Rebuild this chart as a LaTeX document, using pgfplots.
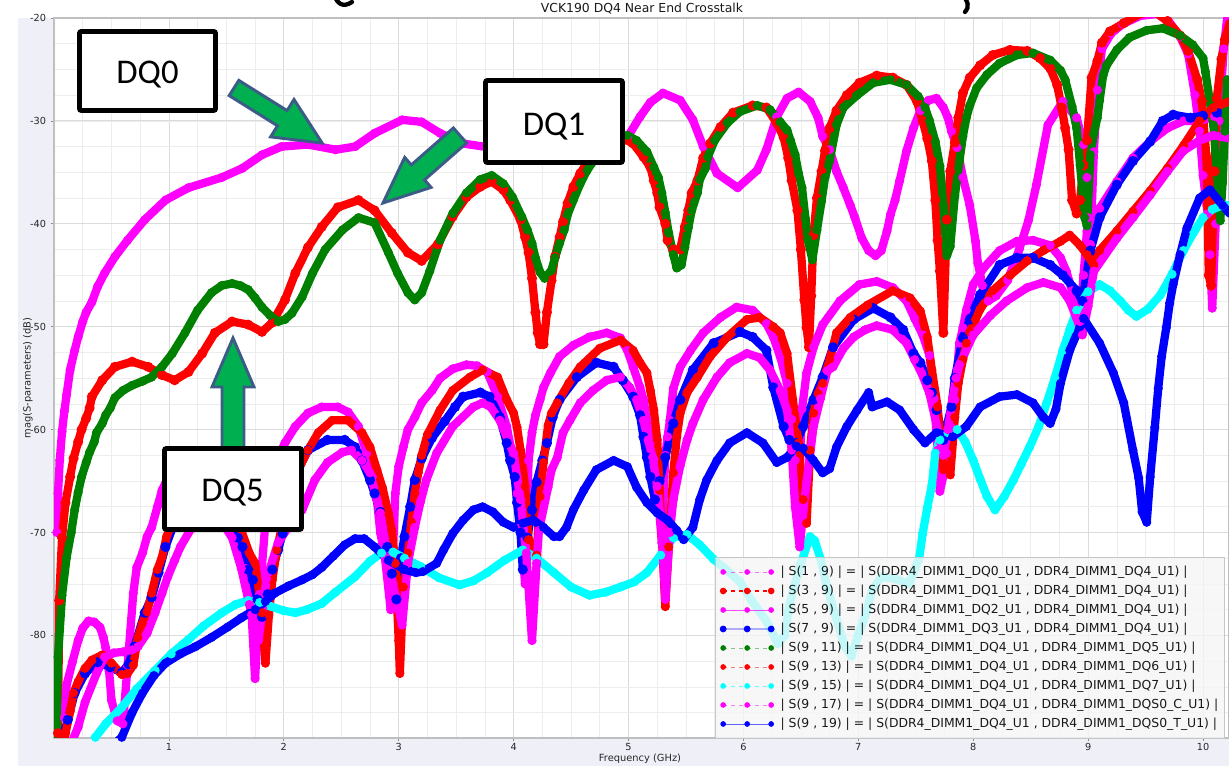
\documentclass[border=0pt]{standalone}
\usepackage{pgfplots}
\pgfplotsset{compat=1.18}
\usepackage{pgfplotstable}
\usepackage{fontspec}
\setmainfont{DejaVu Sans}
\newfontfamily\calib{Carlito}
\newcommand\tickfont{\fontsize{7.3}{9}\selectfont}
\newcommand\labfont{\fontsize{7.4}{9}\selectfont}
\newcommand\titlefont{\fontsize{9.3}{11}\selectfont}
\newcommand\legfont{\fontsize{9.3}{11}\selectfont}
\newcommand\boxfont{\calib\fontsize{26}{30}\selectfont}
\newcommand\lgap{\hspace*{4.5pt}}
\definecolor{cM}{RGB}{255,0,255}
\definecolor{cR}{RGB}{255,0,0}
\definecolor{cB}{RGB}{0,0,255}
\definecolor{cG}{RGB}{0,128,0}
\definecolor{cC}{RGB}{0,255,255}
\definecolor{lav}{RGB}{239,239,248}
\definecolor{arrfill}{RGB}{0,176,80}
\definecolor{arrdraw}{RGB}{60,92,135}
\pgfplotsset{
  band/.style={forget plot, no marks, solid, line width=6.2pt, line join=round, line cap=round},
  dots/.style={mark=*, mark size=3.1pt, mark options={solid, draw opacity=1, fill opacity=1, fill=#1, draw=#1}},
}
\begin{document}
% S(1,9) DQ0
\pgfplotstableread{
x y
0.025 -70
0.035 -66.2
0.05 -63
0.07 -60.2
0.09 -58.2
0.11 -56.6
0.14 -54.2
0.18 -52.3
0.21 -51
0.25 -49.5
0.28 -48.6
0.33 -47.6
0.38 -46.1
0.44 -44.8
0.53 -43.2
0.64 -41.6
0.79 -39.6
0.97 -37.7
1.17 -36.5
1.46 -35.5
1.64 -34.6
1.81 -33.3
1.98 -32.5
2.21 -32.3
2.45 -32.8
2.62 -32.5
2.79 -31.2
3.03 -29.9
3.2 -30.1
3.36 -31.2
3.56 -32.2
3.8 -32.6
4.1 -33.3
4.4 -33.6
4.7 -33.2
4.99 -31.6
5.1 -29.6
5.19 -28.2
5.3 -27.3
5.45 -28
5.56 -29.9
5.65 -32.5
5.77 -35.1
5.95 -36.5
6.12 -34.8
6.2 -32.8
6.29 -29.6
6.38 -27.8
6.48 -27.2
6.58 -28.1
6.65 -29.7
6.69 -31.5
6.75 -32.8
6.81 -34.9
6.87 -36.5
6.93 -38.2
6.97 -39.4
7.03 -41.4
7.09 -42.6
7.15 -43.1
7.2 -42.6
7.25 -40.7
7.28 -39.1
7.32 -37.7
7.36 -35.8
7.42 -32.9
7.48 -30.7
7.54 -29.0
7.61 -28.0
7.68 -27.8
7.74 -28.7
7.78 -29.7
7.81 -31
7.86 -32.6
7.91 -35.5
7.97 -38.2
8.02 -41.7
8.04 -43.8
8.08 -46
8.13 -47.5
8.2 -47
8.3 -45.5
8.4 -42.5
8.48 -39.7
8.55 -36.2
8.65 -30.4
8.78 -28.1
8.9 -29.7
8.96 -32.3
8.99 -35.5
9.0 -39.4
9.02 -42
9.05 -33
9.08 -27
9.12 -23
9.2 -21.5
9.3 -20.6
9.45 -19.8
9.6 -19.6
9.7 -20.3
9.8 -21.8
9.87 -23.5
9.93 -27.5
9.97 -31
10.0 -35.3
10.04 -39
10.06 -43
10.08 -48.2
10.11 -40
10.14 -30
10.18 -23
10.22 -19
}\tA
% S(3,9) DQ1
\pgfplotstableread{
x y
0.03 -90.5
0.035 -89.5
0.045 -76.6
0.07 -70.5
0.1 -67.1
0.14 -64.6
0.17 -62.8
0.21 -61.2
0.24 -60
0.28 -58.9
0.31 -57.9
0.33 -56.8
0.42 -55.2
0.53 -53.9
0.68 -53.4
0.82 -53.9
0.94 -54.7
1.05 -55.2
1.17 -54.4
1.29 -52.6
1.4 -50.6
1.55 -49.5
1.69 -49.8
1.81 -50.5
1.9 -49.6
2.01 -47.4
2.1 -44.8
2.21 -42.3
2.33 -40.3
2.47 -38.4
2.65 -37.7
2.79 -38.7
2.94 -40.9
3.08 -42.8
3.2 -43.6
3.34 -42.0
3.47 -39.3
3.59 -37.4
3.71 -36.4
3.81 -35.9
3.91 -36.7
3.97 -37.7
4.06 -39.6
4.1 -41.3
4.13 -42.8
4.16 -45.3
4.19 -48.6
4.21 -50.6
4.23 -51.7
4.26 -51.7
4.29 -48.6
4.33 -45.5
4.36 -43.2
4.4 -41.3
4.43 -39.8
4.47 -38
4.52 -36.4
4.58 -35.1
4.7 -33
4.85 -31.8
4.97 -31.8
5.04 -32.2
5.13 -33.5
5.19 -34.5
5.22 -35.8
5.25 -37
5.27 -38.4
5.32 -40
5.34 -41.6
5.39 -42.5
5.45 -42.5
5.49 -40.3
5.52 -38.7
5.55 -37
5.6 -35.8
5.65 -33.6
5.71 -32.2
5.8 -30.6
5.91 -29.2
6.08 -28.5
6.2 -28.7
6.29 -30.2
6.35 -31.6
6.39 -33.6
6.42 -35.8
6.47 -38.7
6.5 -42.5
6.53 -47.4
6.55 -50.1
6.57 -52
6.59 -47
6.61 -41.1
6.64 -37.5
6.68 -34.9
6.71 -32.9
6.75 -30.7
6.81 -29
6.9 -27.5
7.01 -26.3
7.16 -25.6
7.3 -25.8
7.42 -26.5
7.51 -28.1
7.56 -30
7.6 -31.7
7.64 -33.9
7.67 -37.7
7.69 -41.6
7.71 -44.6
7.74 -50.6
7.77 -39.6
7.8 -34.9
7.84 -32.1
7.87 -29.7
7.91 -27.3
7.97 -25.8
8.06 -24.6
8.17 -23.6
8.32 -23.1
8.47 -23.2
8.58 -23.9
8.67 -24.9
8.73 -26.5
8.77 -28.7
8.8 -30.7
8.83 -32.8
8.86 -37.7
8.9 -39
8.93 -37.7
8.96 -34.3
8.99 -31.9
9.03 -25.8
9.08 -24.2
9.12 -22.4
9.19 -21.3
9.31 -20.5
9.45 -19.6
9.58 -19.4
9.69 -20.3
9.8 -21.7
9.87 -23.2
9.95 -26
9.99 -28.1
10.03 -33.6
10.04 -38.2
10.05 -45
10.07 -46
10.1 -34.9
10.12 -27.8
10.16 -24
10.19 -22.1
10.23 -20.5
}\tB
% S(5,9)
\pgfplotstableread{
x y
0.09 -88
0.11 -84.8
0.16 -82.6
0.21 -80.5
0.25 -79.3
0.3 -78.6
0.35 -78.7
0.4 -79.2
0.43 -80.2
0.45 -81.2
0.48 -83.5
0.5 -86.3
0.55 -88.3
0.6 -88.6
0.64 -83
0.69 -75.9
0.72 -73.4
0.77 -72
0.81 -70.4
0.85 -69.5
0.9 -67.5
0.94 -65.9
1.02 -64
1.12 -62.8
1.25 -62.3
1.38 -63
1.5 -65.5
1.6 -69.5
1.67 -73.5
1.72 -78
1.75 -84.2
1.79 -76
1.84 -69
1.9 -64.5
1.96 -62.5
2.01 -61.3
2.1 -59.7
2.21 -58.4
2.33 -57.8
2.47 -57.8
2.56 -58.3
2.65 -59.7
2.72 -62.3
2.77 -64.6
2.81 -66.8
2.84 -70
2.88 -72.4
2.93 -77.5
2.97 -66.2
3.0 -63.6
3.04 -61.7
3.08 -60
3.14 -58.8
3.2 -57.4
3.29 -56.2
3.36 -55.0
3.47 -54.1
3.59 -53.7
3.68 -53.8
3.77 -54.4
3.86 -56.8
3.94 -59.7
3.99 -62.7
4.03 -66.2
4.06 -69.5
4.1 -75
4.13 -63
4.16 -60.3
4.19 -58.6
4.23 -57.1
4.26 -55.9
4.32 -54.5
4.4 -52.9
4.52 -51.8
4.66 -51.0
4.81 -50.6
4.93 -51.1
4.99 -52.3
5.04 -53.9
5.1 -55.9
5.13 -57.1
5.16 -59.1
5.19 -61.3
5.22 -62.9
5.25 -65.6
5.29 -71
5.32 -62.5
5.34 -60.7
5.36 -59.1
5.39 -56
5.45 -53.9
5.54 -52.3
5.65 -50.6
5.8 -49.1
5.94 -48.1
6.08 -48.4
6.2 -49.7
6.26 -51
6.32 -52.9
6.38 -55.5
6.42 -59
6.45 -63
6.48 -67
6.51 -58
6.55 -54.5
6.61 -52
6.69 -49.8
6.84 -47.5
7.01 -45.9
7.16 -45.6
7.3 -46.2
7.42 -47.5
7.49 -49.2
7.56 -50.8
7.62 -52.8
7.66 -57
7.69 -62
7.71 -66
7.74 -64.5
7.77 -62.3
7.81 -59.8
7.84 -57.1
7.86 -54.2
7.88 -51.6
7.91 -50.1
7.94 -48.4
8.0 -45.9
8.09 -44.3
8.23 -42.6
8.38 -41.7
8.52 -41.6
8.67 -42.1
8.76 -43.3
8.81 -44.6
8.86 -46.5
8.89 -47.9
8.93 -49.5
8.96 -45
8.99 -40.7
9.1 -38.5
9.25 -35.9
9.39 -33.6
9.54 -32
9.69 -30.7
9.83 -30
9.97 -30
10.1 -29.6
10.23 -29.4
}\tC
% S(7,9)
\pgfplotstableread{
x y
0.06 -90.5
0.12 -88.2
0.18 -85.6
0.27 -83.7
0.38 -82.6
0.49 -83.1
0.59 -83.6
0.65 -82.8
0.7 -81.1
0.79 -77.8
0.85 -76.3
0.91 -73.9
0.97 -71.4
1.05 -69
1.15 -67
1.3 -65.5
1.42 -66
1.52 -68
1.6 -70.5
1.64 -71.4
1.69 -73.6
1.73 -74.6
1.77 -76.5
1.81 -78.2
1.86 -76
1.9 -73.6
1.95 -71.7
1.99 -70.1
2.05 -67
2.12 -64
2.21 -62
2.38 -61
2.53 -61
2.62 -61.7
2.68 -63
2.75 -64.9
2.79 -66.2
2.84 -68
2.9 -71.4
2.94 -74
2.98 -76.5
3.02 -72.5
3.05 -70.4
3.1 -67.5
3.14 -64.9
3.2 -62.8
3.29 -60.8
3.4 -59.2
3.49 -57.8
3.56 -56.8
3.71 -56.4
3.79 -56.8
3.88 -58.8
3.94 -61.3
3.97 -63
4.01 -64.6
4.03 -67.1
4.06 -70.0
4.08 -73.6
4.12 -70.5
4.16 -67.8
4.2 -65.1
4.25 -63
4.29 -61.3
4.34 -58.8
4.4 -57.1
4.55 -54.9
4.72 -53.5
4.87 -53.9
4.95 -55.2
5.04 -56.8
5.1 -58.6
5.13 -60.7
5.16 -62.7
5.19 -64.6
5.23 -66.8
5.27 -65
5.32 -62.7
5.39 -59.4
5.45 -57.1
5.56 -54.2
5.74 -51.6
5.97 -50.5
6.08 -51
6.2 -52.3
6.26 -55.9
6.35 -59.7
6.4 -61
6.46 -61.3
6.52 -59.7
6.61 -57.1
6.69 -54.9
6.78 -52
6.96 -49.3
7.13 -48.2
7.28 -49.1
7.39 -50.3
7.48 -52.6
7.54 -53.5
7.6 -55.2
7.64 -56.4
7.68 -58.1
7.74 -61
7.81 -57.8
7.84 -55
7.91 -51.1
7.97 -49.3
8.06 -46.9
8.23 -44
8.38 -43.3
8.52 -43.3
8.67 -44
8.78 -45
8.9 -46.5
8.95 -47.5
9.02 -42.6
9.1 -39.4
9.25 -36.2
9.39 -33.9
9.54 -32
9.65 -30
9.74 -29.4
9.89 -29.7
10.0 -29.5
10.12 -29.2
10.23 -29.4
}\tD
% S(9,11) DQ5
\pgfplotstableread{
x y
0.02 -90.5
0.035 -82.1
0.07 -76.1
0.11 -72.4
0.15 -70
0.18 -67.8
0.21 -66.1
0.24 -64.6
0.28 -63.2
0.31 -62.2
0.35 -61.2
0.37 -60.3
0.42 -59.4
0.45 -58.6
0.49 -57.9
0.53 -56.9
0.6 -56.2
0.68 -55.7
0.77 -55.3
0.85 -54.9
0.94 -53.9
1.03 -52.6
1.14 -50.6
1.25 -48.4
1.37 -46.7
1.46 -46
1.55 -45.8
1.62 -46
1.69 -46.4
1.75 -47.2
1.81 -48.1
1.88 -48.9
1.95 -49.5
2.01 -49.3
2.07 -48.7
2.16 -47.1
2.25 -44.8
2.36 -42.5
2.51 -40.6
2.65 -39.4
2.79 -39.9
2.91 -42.8
2.99 -44.8
3.08 -46.7
3.14 -47.4
3.2 -46.7
3.27 -44.6
3.36 -41.6
3.47 -39
3.59 -37
3.71 -35.7
3.81 -35.3
3.91 -36.1
3.99 -37.4
4.07 -39.3
4.12 -40.6
4.16 -41.9
4.19 -43.3
4.23 -44.7
4.27 -45.3
4.33 -44.5
4.36 -43.3
4.4 -41.9
4.44 -40.6
4.47 -39.1
4.52 -37.7
4.58 -36.1
4.64 -34.8
4.75 -33
4.88 -31.7
4.99 -31.4
5.07 -31.9
5.16 -33
5.22 -34.5
5.26 -35.5
5.29 -37
5.32 -38.9
5.35 -40.9
5.39 -43
5.42 -44.3
5.46 -44
5.49 -42.3
5.52 -40.4
5.55 -38.7
5.6 -37
5.62 -35.7
5.67 -34.6
5.69 -33.5
5.75 -31.9
5.86 -30.2
5.97 -29.1
6.12 -28.5
6.23 -28.9
6.32 -30.1
6.38 -30.9
6.41 -31.9
6.45 -33.3
6.48 -35.1
6.51 -36.5
6.54 -39.5
6.56 -41.5
6.6 -43.5
6.64 -40.6
6.68 -37.8
6.71 -35.5
6.75 -33.9
6.81 -30.4
6.87 -28.7
6.99 -27.5
7.13 -26.3
7.28 -26
7.42 -26.5
7.52 -27.6
7.58 -28.7
7.62 -30
7.67 -32
7.71 -34.4
7.74 -38.2
7.77 -43.1
7.8 -42.2
7.84 -37.3
7.88 -33.9
7.91 -31.5
7.94 -29.7
7.97 -28.5
8.03 -26.8
8.12 -25.5
8.23 -24.4
8.38 -23.6
8.52 -23.4
8.67 -24.1
8.76 -25.1
8.8 -26
8.86 -28.6
8.9 -30.7
8.93 -34.3
8.97 -39.4
8.99 -40.2
9.02 -33.3
9.05 -31.2
9.08 -29.7
9.1 -28
9.13 -25.6
9.16 -24.6
9.25 -23.1
9.36 -21.9
9.51 -21.2
9.65 -21
9.8 -21.7
9.91 -22.6
10.0 -23.9
10.02 -25.2
10.09 -30.4
10.13 -36.3
10.15 -39.7
10.17 -36
10.19 -31
10.21 -26
}\tE
% S(9,13)
\pgfplotstableread{
x y
0.08 -91
0.1 -89.5
0.14 -87.4
0.17 -85.6
0.21 -84.5
0.27 -83.2
0.33 -82.4
0.42 -81.9
0.5 -82.7
0.59 -83.8
0.64 -83.7
0.69 -82.9
0.73 -80.2
0.77 -78.8
0.81 -77.7
0.85 -75.9
0.9 -73.6
0.94 -72.4
0.98 -70.4
1.1 -67
1.25 -64.5
1.4 -64.5
1.52 -66.5
1.62 -69.5
1.7 -72
1.75 -73
1.81 -77.8
1.84 -82.7
1.87 -78
1.9 -74.6
1.94 -71.7
2.0 -68.5
2.1 -64.5
2.21 -62
2.3 -60.3
2.42 -59.1
2.56 -59.1
2.68 -60.3
2.75 -61.7
2.81 -63.9
2.86 -65.7
2.91 -68.1
2.94 -69.8
2.97 -73
3.0 -80.5
3.01 -83.7
3.04 -75.3
3.08 -72
3.11 -69
3.14 -66.2
3.17 -64.2
3.2 -62.5
3.25 -60.5
3.36 -58.1
3.47 -56.2
3.62 -54.9
3.73 -54.2
3.86 -54.9
3.94 -57.1
4.0 -58.4
4.03 -59.8
4.06 -62
4.1 -65.5
4.13 -70.7
4.2 -72.2
4.23 -66.5
4.26 -63.2
4.3 -59.6
4.33 -58.4
4.38 -57.4
4.48 -55.5
4.58 -53.9
4.75 -52.1
4.93 -51.3
5.04 -52.3
5.1 -53.5
5.16 -54.5
5.19 -56.2
5.22 -58.1
5.25 -61
5.27 -65.9
5.32 -77.2
5.35 -71.4
5.39 -64.2
5.42 -60.7
5.45 -58.4
5.51 -56.4
5.6 -54.9
5.71 -52.9
5.86 -51
6.03 -49.3
6.14 -49.1
6.26 -50
6.32 -50.6
6.38 -52.6
6.43 -57.1
6.48 -61.3
6.52 -66.8
6.55 -69.1
6.58 -62
6.61 -58.4
6.65 -56.5
6.69 -55.5
6.75 -53.2
6.81 -50.6
6.93 -49.1
7.08 -47.9
7.3 -46.5
7.45 -47.2
7.54 -48.5
7.6 -51
7.64 -54.2
7.69 -57.8
7.74 -63.9
7.8 -64.4
7.84 -58.8
7.87 -55.5
7.91 -53.2
7.94 -51.6
7.97 -50.5
8.02 -49.3
8.06 -48.3
8.17 -46.5
8.32 -45
8.47 -43.6
8.61 -42.6
8.76 -41.7
8.84 -41.1
8.93 -42.1
8.99 -43
9.05 -44
9.1 -42.6
9.25 -40.7
9.39 -38.8
9.54 -36.8
9.69 -34.6
9.83 -32.4
9.97 -30
10.09 -28.7
10.23 -28.1
}\tF
% S(9,15) DQ7
\pgfplotstableread{
x y
0.3 -91
0.36 -89.9
0.45 -88.6
0.59 -87
0.72 -85.2
0.88 -83.4
1.02 -81.8
1.17 -80.4
1.3 -79.1
1.46 -77.8
1.58 -77
1.69 -76.6
1.79 -76.8
1.89 -77.2
2.0 -77.6
2.1 -77.8
2.2 -77.5
2.33 -76.9
2.45 -75.8
2.62 -74.3
2.75 -72.8
2.85 -72.0
2.95 -71.9
3.05 -72.5
3.19 -73.3
3.35 -74.4
3.53 -75.1
3.65 -74.7
3.77 -73.9
3.92 -72.7
4.08 -71.7
4.2 -72.5
4.35 -73.9
4.5 -75.3
4.66 -76.1
4.8 -75.8
4.93 -75.3
5.05 -74.8
5.16 -73.9
5.28 -72.2
5.39 -70.5
5.51 -70.2
5.62 -71.2
5.74 -72.6
5.85 -73.6
5.97 -74.8
6.07 -76.6
6.2 -78.6
6.3 -80.8
6.36 -80
6.4 -77
6.44 -75.3
6.5 -73
6.58 -70.4
6.62 -70.8
6.67 -72.5
6.72 -75
6.8 -78
6.88 -81
6.94 -82
7.0 -79.9
7.06 -78.1
7.12 -75.6
7.2 -74.3
7.32 -74.5
7.44 -75
7.53 -72.5
7.56 -70.1
7.6 -67.6
7.64 -65.4
7.67 -62.3
7.71 -61
7.78 -60.3
7.86 -60.0
7.93 -61.2
8.0 -63
8.06 -64.8
8.12 -66.5
8.19 -67.8
8.27 -66.5
8.35 -64.9
8.42 -63.3
8.49 -61.7
8.57 -59.7
8.64 -57.4
8.71 -55
8.78 -52.3
8.84 -50.3
8.9 -48.4
9.0 -46.6
9.1 -45.9
9.19 -46.5
9.28 -47.5
9.35 -48.4
9.42 -49.0
9.52 -48.3
9.63 -46.9
9.73 -44.9
9.83 -42.6
9.92 -40.8
10.0 -39.4
10.08 -38.6
10.17 -38.2
10.23 -38.2
}\tG
% S(9,17)
\pgfplotstableread{
x y
0.15 -90.5
0.21 -88.9
0.27 -86.5
0.37 -83.7
0.44 -82.1
0.52 -81.7
0.6 -81.6
0.68 -81.4
0.73 -81.1
0.81 -79.8
0.88 -77.8
0.94 -75.9
0.99 -74.3
1.05 -72.7
1.1 -71.4
1.2 -69.5
1.32 -68.3
1.45 -68.8
1.55 -70.5
1.63 -73.5
1.7 -77
1.78 -80.5
1.85 -74.5
1.95 -71
2.05 -69.3
2.16 -67.8
2.27 -64.9
2.38 -63.2
2.51 -62.2
2.59 -62
2.68 -63
2.75 -64.2
2.84 -68.1
2.91 -72.7
2.95 -75
3.03 -79
3.08 -73
3.14 -69.5
3.19 -67
3.24 -64.9
3.33 -62.3
3.47 -59.7
3.65 -57.8
3.73 -57.4
3.8 -57.8
3.88 -59.1
4.0 -62.3
4.06 -66.8
4.11 -72
4.16 -80.5
4.2 -73
4.22 -69.8
4.3 -65.6
4.33 -63.9
4.38 -62.7
4.43 -60.3
4.49 -59.1
4.58 -57.4
4.69 -56.2
4.81 -55.2
4.93 -54.9
5.01 -55.9
5.07 -57.1
5.13 -59.1
5.17 -61
5.21 -62.7
5.25 -65.5
5.29 -70
5.32 -76.5
5.36 -70
5.39 -66.8
5.45 -63.5
5.51 -61
5.56 -59.4
5.65 -57.1
5.77 -54.9
5.88 -53.5
6.03 -52.6
6.14 -53
6.23 -54.2
6.32 -56.2
6.38 -58.1
6.42 -62
6.45 -67.5
6.49 -71.4
6.52 -68
6.55 -65.1
6.61 -59.7
6.67 -57
6.73 -54.3
6.78 -53.9
6.87 -52.1
6.96 -51
7.06 -50.3
7.16 -49.9
7.3 -50.3
7.42 -51.6
7.49 -53.2
7.55 -54.5
7.62 -56.5
7.68 -59.5
7.74 -62.5
7.78 -60
7.82 -57
7.85 -55
7.88 -53.7
8.0 -50.8
8.15 -48.9
8.29 -47.5
8.47 -46.2
8.61 -45.7
8.76 -46.2
8.84 -47.5
8.9 -49.2
8.95 -50.8
9.0 -48
9.05 -44.6
9.25 -41.4
9.39 -39.4
9.54 -37.2
9.69 -34.9
9.83 -32.9
9.97 -31.9
10.09 -31.4
10.23 -31.7
}\tH
% S(9,19)
\pgfplotstableread{
x y
0.52 -90.6
0.59 -89.9
0.68 -87.5
0.77 -85.6
0.87 -83.9
0.97 -82.7
1.1 -81.8
1.23 -81.1
1.37 -80.2
1.51 -79.2
1.63 -78.3
1.75 -77.5
1.84 -76.7
1.92 -75.9
2.04 -75.2
2.16 -74.6
2.25 -74.1
2.33 -73.4
2.43 -72.3
2.53 -71.2
2.62 -70.6
2.7 -70.6
2.79 -71.4
2.91 -72.7
3.05 -73.6
3.15 -73.9
3.21 -73.8
3.33 -73
3.39 -71.7
3.47 -70.1
3.56 -68.8
3.65 -67.8
3.73 -67.5
3.82 -68
3.91 -69
4.0 -69.5
4.08 -69.1
4.17 -68.8
4.26 -69.5
4.35 -70.4
4.4 -70.4
4.46 -69.5
4.52 -67.8
4.61 -65.9
4.72 -63.9
4.87 -63
4.99 -63.6
5.07 -65.6
5.16 -67.1
5.25 -68.1
5.34 -68.8
5.42 -69.8
5.48 -70.7
5.56 -69.5
5.62 -66.8
5.68 -64.9
5.77 -63
5.88 -61.3
6.03 -60.3
6.17 -61.3
6.29 -63.2
6.38 -62.7
6.46 -61.6
6.52 -61.8
6.61 -63
6.69 -64.2
6.75 -63.8
6.81 -61.7
6.9 -59.7
6.99 -58.1
7.09 -56.4
7.12 -57.8
7.25 -57.3
7.36 -58.1
7.48 -60
7.58 -61.3
7.68 -60.3
7.82 -60.7
7.94 -59.7
8.06 -57.8
8.23 -56.8
8.38 -56.6
8.52 -57.4
8.61 -58.8
8.67 -59.4
8.72 -58
8.76 -55.5
8.84 -52.3
8.96 -49.2
9.1 -51.6
9.22 -54.5
9.31 -57.4
9.39 -62
9.44 -64.7
9.47 -68
9.51 -69
9.54 -64.6
9.58 -59.8
9.61 -56
9.64 -52.9
9.68 -50.1
9.71 -47.7
9.74 -45.9
9.8 -43
9.86 -40.4
9.97 -37.5
10.06 -36.7
10.17 -38.2
10.23 -39
}\tI
\begin{tikzpicture}
\begin{scope}[shift={(-40.5pt,553.5pt)}, x=0.75pt, y=-0.75pt]
  \fill[lav] (18,18) rectangle (1229,766);
\end{scope}
\begin{axis}[
  at={(0pt,0pt)}, anchor=south west, scale only axis,
  width=881.25pt, height=540pt,
  xmin=0, xmax=10.226, ymin=-89.97, ymax=-20,
  xtick={1,2,3,4,5,6,7,8,9,10},
  xticklabels={1,2,3,4,5,6,7,8,9,10},
  ytick={-80,-70,-60,-50,-40,-30,-20},
  yticklabels={-80,-70,-60,-50,-40,-30,-20},
  minor xtick={0,0.25,...,10.25},
  minor ytick={-90,-87.5,...,-20},
  grid=both,
  major grid style={draw=black!14, line width=0.6pt},
  minor grid style={draw=black!7, line width=0.5pt},
  axis line style={draw=black!25, line width=0.8pt},
  tick style={draw=black!45, line width=0.5pt},
  major tick length=2.5pt, minor tick length=0pt,
  tick align=outside, xtick pos=bottom, ytick pos=left,
  ticklabel style={font=\tickfont, text=black!85},
  xticklabel style={yshift=1.8pt},
  axis background/.style={fill=white},
  legend cell align=left,
  legend image code/.code={%
    \draw[mark repeat=1, #1, every mark/.append style={scale=0.58}] plot coordinates {(0pt,0pt) (18pt,0pt) (36pt,0pt)};},
  legend style={at={(axis cs:5.753,-72.38)}, anchor=north west,
    fill=black!4, fill opacity=0.8, draw opacity=1, text opacity=1,
    draw=black!22, line width=0.6pt, font=\legfont, text=black!90,
    inner xsep=4pt, inner ysep=5.4pt, row sep=3.15pt,
    nodes={inner sep=0.8pt, text height=7.2pt, text depth=2.3pt}},
]
\addplot[band, cM] table {\tA};
\addplot[cM, dashed, line width=0.6pt, draw opacity=0.55, dots=cM] table {\tA};
\addlegendentry{\lgap| S(1 , 9) | = | S(DDR4\_DIMM1\_DQ0\_U1 , DDR4\_DIMM1\_DQ4\_U1) |}
\addplot[band, cR] table {\tB};
\addplot[cR, dashed, line width=1.3pt, dots=cR] table {\tB};
\addlegendentry{\lgap| S(3 , 9) | = | S(DDR4\_DIMM1\_DQ1\_U1 , DDR4\_DIMM1\_DQ4\_U1) |}
\addplot[band, cM] table {\tC};
\addplot[cM, solid, line width=0.6pt, draw opacity=0.7, dots=cM] table {\tC};
\addlegendentry{\lgap| S(5 , 9) | = | S(DDR4\_DIMM1\_DQ2\_U1 , DDR4\_DIMM1\_DQ4\_U1) |}
\addplot[band, cB] table {\tD};
\addplot[cB, solid, line width=1.4pt, draw opacity=0.3, dots=cB] table {\tD};
\addlegendentry{\lgap| S(7 , 9) | = | S(DDR4\_DIMM1\_DQ3\_U1 , DDR4\_DIMM1\_DQ4\_U1) |}
\addplot[band, cG] table {\tE};
\addplot[cG, dashed, line width=0.6pt, draw opacity=0.45, dots=cG] table {\tE};
\addlegendentry{\lgap| S(9 , 11) | = | S(DDR4\_DIMM1\_DQ4\_U1 , DDR4\_DIMM1\_DQ5\_U1) |}
\addplot[band, cR] table {\tF};
\addplot[cR, dashed, line width=0.6pt, draw opacity=0.5, dots=cR] table {\tF};
\addlegendentry{\lgap| S(9 , 13) | = | S(DDR4\_DIMM1\_DQ4\_U1 , DDR4\_DIMM1\_DQ6\_U1) |}
\addplot[band, cC] table {\tG};
\addplot[cC, dashed, line width=0.6pt, draw opacity=0.6, dots=cC] table {\tG};
\addlegendentry{\lgap| S(9 , 15) | = | S(DDR4\_DIMM1\_DQ4\_U1 , DDR4\_DIMM1\_DQ7\_U1) |}
\addplot[band, cM] table {\tH};
\addplot[cM, dashed, line width=0.6pt, draw opacity=0.5, dots=cM] table {\tH};
\addlegendentry{\lgap| S(9 , 17) | = | S(DDR4\_DIMM1\_DQ4\_U1 , DDR4\_DIMM1\_DQS0\_C\_U1) |}
\addplot[band, cB] table {\tI};
\addplot[cB, solid, line width=0.6pt, draw opacity=0.6, dots=cB] table {\tI};
\addlegendentry{\lgap| S(9 , 19) | = | S(DDR4\_DIMM1\_DQ4\_U1 , DDR4\_DIMM1\_DQS0\_T\_U1) |}
\end{axis}
\begin{scope}[shift={(-40.5pt,553.5pt)}, x=0.75pt, y=-0.75pt]
  \node[font=\titlefont, text=black!90] at (642,8.5) {VCK190 DQ4 Near End Crosstalk};
  \node[font=\labfont, text=black!85] at (640,759) {Frequency (GHz)};
  \node[font=\labfont, text=black!85, rotate=90] at (28,378) {mag(S-parameters) (dB)};
  % clipped strokes of a larger heading above the picture
  \draw[line width=3.2pt, line cap=round] (334,-6) .. controls (337,4) and (343,8) .. (352,2);
  \draw[line width=3.2pt, line cap=round] (962,-6) .. controls (968,2) and (970,6) .. (965,12);
  % arrows
  \draw[fill=arrfill, draw=arrdraw, line width=2.2pt, line join=miter]
    (238.8,80.4) -- (287.1,110.6) -- (294.0,99.5) -- (322.2,143.1) -- (270.6,136.9) -- (277.5,125.8) -- (229.2,95.6) -- cycle;
  \draw[fill=arrfill, draw=arrdraw, line width=2.2pt, line join=miter]
    (466.6,143.0) -- (424.5,179.9) -- (431.1,187.4) -- (383.0,203.0) -- (404.7,157.4) -- (411.3,164.9) -- (453.4,128.0) -- cycle;
  \draw[fill=arrfill, draw=arrdraw, line width=2.2pt, line join=miter]
    (222,452) -- (222,387) -- (212,387) -- (233,338) -- (254,387) -- (244,387) -- (244,452) -- cycle;
  % boxes
  \draw[line width=3.7pt, fill=white, rounded corners=1.5pt] (79.5,31.5) rectangle (215.5,110.5);
  \node[font=\boxfont, anchor=base] at (147.5,83.3) {DQ0};
  \draw[line width=3.7pt, fill=white, rounded corners=1.5pt] (485.5,80.5) rectangle (622.5,162.5);
  \node[font=\boxfont, anchor=base] at (554,135.7) {DQ1};
  \draw[line width=3.7pt, fill=white, rounded corners=1.5pt] (164.5,448.5) rectangle (301.5,529.5);
  \node[font=\boxfont, anchor=base] at (232.5,501.7) {DQ5};
\end{scope}
\pgfresetboundingbox
\path[use as bounding box] (-40.5pt,-21pt) rectangle (881.25pt,553.5pt);
\end{tikzpicture}
\end{document}
